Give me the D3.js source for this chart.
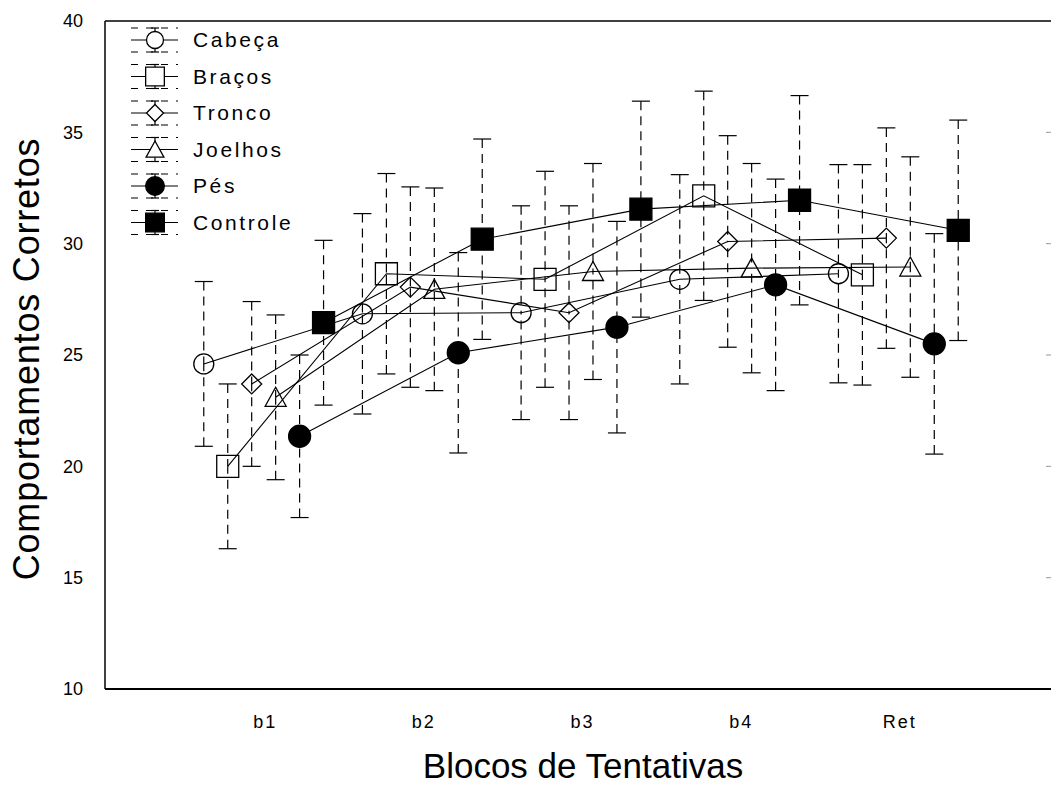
<!DOCTYPE html>
<html>
<head>
<meta charset="utf-8">
<script src="https://cdn.jsdelivr.net/npm/d3@7"></script>
<style>
  body { margin: 0; background: #fff; }
  text { font-family: "Liberation Sans", Arial, sans-serif; fill: #000; }
</style>
</head>
<body>
<svg id="chart" width="1051" height="787"></svg>
<script>
// categories and series
var categories = ["b1", "b2", "b3", "b4", "Ret"];
var seriesNames = ["Cabeça", "Braços", "Tronco", "Joelhos", "Pés", "Controle"];

// means and error half-widths
var cabecaMean   = [24.6, 26.85, 26.9, 28.4, 28.65];
var cabecaErr    = [3.7, 4.5, 4.8, 4.7, 4.9];
var bracosMean   = [20.0, 28.65, 28.4, 32.15, 28.6];
var bracosErr    = [3.7, 4.5, 4.85, 4.7, 4.95];
var troncoMean   = [23.7, 28.05, 26.9, 30.1, 30.25];
var troncoErr    = [3.7, 4.5, 4.8, 4.75, 4.95];
var joelhosMean  = [23.1, 27.95, 28.75, 28.9, 28.95];
var joelhosErr   = [3.7, 4.55, 4.85, 4.7, 4.95];
var pesMean      = [21.35, 25.1, 26.25, 28.15, 25.5];
var pesErr       = [3.65, 4.5, 4.75, 4.75, 4.95];
var controleMean = [26.45, 30.2, 31.55, 31.95, 30.6];
var controleErr  = [3.7, 4.5, 4.85, 4.7, 4.95];

var yTicks = [10, 15, 20, 25, 30, 35, 40];

var means = [cabecaMean, bracosMean, troncoMean, joelhosMean, pesMean, controleMean];
var errs = [cabecaErr, bracosErr, troncoErr, joelhosErr, pesErr, controleErr];
var shapes = ["circle", "square", "diamond", "triangle", "dot", "block"];

var series = seriesNames.map(function(name, i) {
  return { name: name, idx: i, shape: shapes[i], values: categories.map(function(c, j) {
    return { cat: j + 1, mean: means[i][j], err: errs[i][j] };
  }) };
});

var svg = d3.select("#chart");

// scales: categories sit at 1..5, each series nudged sideways
var x = d3.scaleLinear().domain([0, 6]).range([105, 1057]);
var y = d3.scaleLinear().domain([10, 40]).range([689, 21]);
var step = 0.151;
function px(s, d) { return x(d.cat + (s.idx - 2.5) * step); }

// marker shapes (s = scale)
function markerPath(shape, s) {
  var r;
  if (shape == "circle") { r = 10 * s; return d3.symbol(d3.symbolCircle, Math.PI * r * r)(); }
  if (shape == "dot") { r = 11 * s; return d3.symbol(d3.symbolCircle, Math.PI * r * r)(); }
  if (shape == "square" || shape == "block") { r = 11 * s; return "M" + -r + "," + -r + "H" + r + "V" + r + "H" + -r + "Z"; }
  if (shape == "diamond") { r = 10 * s; return "M0," + -r + "L" + r + ",0L0," + r + "L" + -r + ",0Z"; }
  r = 10.5 * s;
  return "M0," + (-10 * s) + "L" + r + "," + (9 * s) + "L" + -r + "," + (9 * s) + "Z";
}
function filled(shape) { return shape == "dot" || shape == "block"; }

// frame
svg.append("line").attr("x1", 105).attr("x2", 105).attr("y1", y(40)).attr("y2", y(10))
  .attr("stroke", "#000").attr("stroke-width", 1.5);
svg.append("line").attr("x1", 105).attr("x2", 1051).attr("y1", y(40)).attr("y2", y(40))
  .attr("stroke", "#000").attr("stroke-width", 1.5);
svg.append("line").attr("x1", 105).attr("x2", 1051).attr("y1", y(10)).attr("y2", y(10))
  .attr("stroke", "#000").attr("stroke-width", 2);

// small ticks on the cut-off right side
svg.selectAll(".rtick").data(yTicks.slice(1, -1)).enter().append("line")
  .attr("x1", 1046).attr("x2", 1051)
  .attr("y1", function(d) { return y(d); }).attr("y2", function(d) { return y(d); })
  .attr("stroke", "#999").attr("stroke-width", 1);

// y axis labels
var yAxis = svg.append("g").attr("transform", "translate(105,0)")
  .call(d3.axisLeft(y).tickValues(yTicks).tickSize(0).tickPadding(22));
yAxis.select(".domain").remove();
yAxis.selectAll("text").style("font-size", "18px").style("font-family", "'Liberation Sans', Arial, sans-serif")
  .attr("fill", "#111");

// x axis labels
var xAxis = svg.append("g").attr("transform", "translate(0,689)")
  .call(d3.axisBottom(x).tickValues([1, 2, 3, 4, 5]).tickSize(0).tickPadding(26)
    .tickFormat(function(d) { return categories[d - 1]; }));
xAxis.select(".domain").remove();
xAxis.selectAll("text").style("font-size", "18px").style("font-family", "'Liberation Sans', Arial, sans-serif")
  .style("letter-spacing", "2px").attr("dx", 1).attr("fill", "#111");

// axis titles
svg.append("text").attr("x", 583).attr("y", 778).attr("text-anchor", "middle")
  .style("font-size", "35px").text("Blocos de Tentativas");
svg.append("text").attr("transform", "translate(39,359) rotate(-90)").attr("text-anchor", "middle")
  .style("font-size", "36px").style("letter-spacing", "0.8px").text("Comportamentos Corretos");

// connecting lines
var line = d3.line()
  .x(function(d) { return d.px; })
  .y(function(d) { return y(d.mean); });
svg.selectAll(".series-line").data(series).enter().append("path")
  .attr("class", "series-line")
  .attr("d", function(s) { return line(s.values.map(function(d) { return { px: px(s, d), mean: d.mean }; })); })
  .attr("fill", "none").attr("stroke", "#000").attr("stroke-width", 1.1);

// error bars
var bars = [];
series.forEach(function(s) { s.values.forEach(function(d) { bars.push({ s: s, d: d, cx: px(s, d) }); }); });
var eb = svg.selectAll(".err").data(bars).enter().append("g").attr("class", "err");
eb.append("line").attr("x1", function(b) { return b.cx; }).attr("x2", function(b) { return b.cx; })
  .attr("y1", function(b) { return y(b.d.mean + b.d.err); }).attr("y2", function(b) { return y(b.d.mean); })
  .attr("stroke", "#000").attr("stroke-width", 1.2).attr("stroke-dasharray", "9,6");
eb.append("line").attr("x1", function(b) { return b.cx; }).attr("x2", function(b) { return b.cx; })
  .attr("y1", function(b) { return y(b.d.mean - b.d.err); }).attr("y2", function(b) { return y(b.d.mean); })
  .attr("stroke", "#000").attr("stroke-width", 1.2).attr("stroke-dasharray", "9,6");
eb.append("line").attr("x1", function(b) { return b.cx - 9; }).attr("x2", function(b) { return b.cx + 9; })
  .attr("y1", function(b) { return y(b.d.mean + b.d.err); }).attr("y2", function(b) { return y(b.d.mean + b.d.err); })
  .attr("stroke", "#000").attr("stroke-width", 1.2);
eb.append("line").attr("x1", function(b) { return b.cx - 9; }).attr("x2", function(b) { return b.cx + 9; })
  .attr("y1", function(b) { return y(b.d.mean - b.d.err); }).attr("y2", function(b) { return y(b.d.mean - b.d.err); })
  .attr("stroke", "#000").attr("stroke-width", 1.2);

// markers
svg.selectAll(".marker").data(bars).enter().append("path")
  .attr("class", "marker")
  .attr("transform", function(b) { return "translate(" + b.cx + "," + y(b.d.mean) + ")"; })
  .attr("d", function(b) { return markerPath(b.s.shape, 1); })
  .attr("fill", function(b) { return filled(b.s.shape) ? "#000" : "none"; })
  .attr("stroke", "#000").attr("stroke-width", 1.3);

// legend
var legend = svg.selectAll(".legend").data(series).enter().append("g")
  .attr("class", "legend")
  .attr("transform", function(s, i) { return "translate(155," + (40 + i * 36.5) + ")"; });
legend.append("line").attr("x1", -24).attr("x2", 23).attr("y1", 0).attr("y2", 0)
  .attr("stroke", "#000").attr("stroke-width", 1.2);
[-12, 12].forEach(function(off) {
  legend.append("line").attr("x1", -24).attr("x2", 23).attr("y1", off).attr("y2", off)
    .attr("stroke", "#000").attr("stroke-width", 1.2).attr("stroke-dasharray", "7,8");
  legend.append("line").attr("x1", 0).attr("x2", 0).attr("y1", 0).attr("y2", off)
    .attr("stroke", "#000").attr("stroke-width", 1.2);
  legend.append("line").attr("x1", -4).attr("x2", 4).attr("y1", off).attr("y2", off)
    .attr("stroke", "#000").attr("stroke-width", 1.2);
});
legend.append("path")
  .attr("d", function(s) { return markerPath(s.shape, 0.85); })
  .attr("fill", function(s) { return filled(s.shape) ? "#000" : "#fff"; })
  .attr("stroke", "#000").attr("stroke-width", 1.3);
legend.append("text").attr("x", 38).attr("y", 0).attr("dy", "0.35em")
  .style("font-size", "21px").style("letter-spacing", "2.6px")
  .text(function(s) { return s.name; });
</script>
</body>
</html>
